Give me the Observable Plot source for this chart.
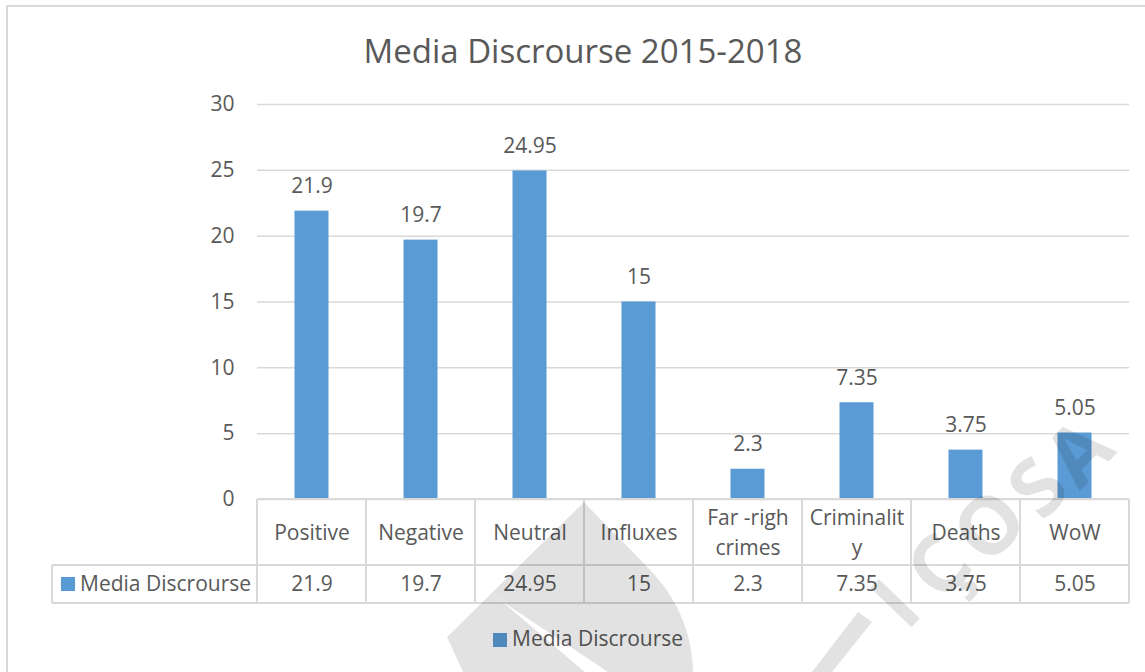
<!DOCTYPE html>
<html>
<head>
<meta charset="utf-8">
<script src="https://cdn.jsdelivr.net/npm/d3@7"></script>
<script src="https://cdn.jsdelivr.net/npm/@observablehq/plot@0.6"></script>
<style>
  html, body { margin: 0; padding: 0; background: #fff; overflow: hidden; }
  #wrap { position: relative; width: 1145px; height: 672px; font-family: "Open Sans", sans-serif; color: #595959; }
  #frame { position: absolute; left: 6px; top: 5px; width: 1200px; height: 720px; border: 2px solid #d9d9d9; box-sizing: border-box; }
  #title { position: absolute; left: 0; width: 1166px; top: 29px; text-align: center; font-size: 33px; line-height: 44px; white-space: nowrap; }
  #chart { position: absolute; left: 0; top: 0; }
  .legend { position: absolute; left: 493px; top: 624px; font-size: 21px; line-height: 28px; white-space: nowrap; }
  .sw { display: inline-block; width: 14px; height: 14px; background: #5B9BD5; margin-right: 5px; vertical-align: -1px; }
  #wm { position: absolute; left: 0; top: 0; pointer-events: none; }
</style>
</head>
<body>
<div id="wrap">
  <div id="frame"></div>
  <div id="chart"></div>
  <div id="title"></div>
  <div class="legend" id="legend"></div>
  <svg id="wm" width="1145" height="672"></svg>
</div>
<script>
const title = "Media Discrourse 2015-2018";
const seriesName = "Media Discrourse";
const categories = ["Positive", "Negative", "Neutral", "Influxes", "Far -righ\ncrimes", "Criminalit\ny", "Deaths", "WoW"];
const values = [21.9, 19.7, 24.95, 15, 2.3, 7.35, 3.75, 5.05];
const yTicks = [0, 5, 10, 15, 20, 25, 30];

const data = categories.map((c, i) => ({cat: c, value: values[i]}));
const fill = "#5B9BD5";
const lineColor = "#d9d9d9";
const textColor = "#595959";
const fs = 21;

document.getElementById("title").textContent = title;
document.getElementById("legend").innerHTML = `<span class="sw"></span>${seriesName}`;

const chart = Plot.plot({
  width: 1145,
  height: 672,
  marginLeft: 257,
  marginRight: 16,
  marginTop: 104,
  marginBottom: 173,
  style: {fontFamily: "'Open Sans', sans-serif", fontSize: fs + "px", color: textColor, background: "transparent", overflow: "visible"},
  x: {domain: categories, padding: 0, axis: null},
  y: {domain: [0, 30], axis: null},
  marks: [
    Plot.gridY(yTicks, {stroke: lineColor, strokeOpacity: 1, strokeWidth: 1.5}),
    Plot.axisY(yTicks, {tickSize: 0, tickPadding: 23, fontSize: fs, fill: textColor, label: null}),
    Plot.barY(data, {x: "cat", y: "value", fill: fill, insetLeft: 37.5, insetRight: 37.5}),
    Plot.text(data, {x: "cat", y: "value", text: d => String(d.value), lineAnchor: "bottom", dy: -18, fontSize: fs, fill: textColor}),
    // data table: category header row
    Plot.text(data, {x: "cat", text: "cat", frameAnchor: "bottom", lineAnchor: "middle", dy: 31, lineHeight: 1.4, fontSize: fs, fill: textColor}),
    // data table: value row
    Plot.text(data, {x: "cat", text: d => String(d.value), frameAnchor: "bottom", lineAnchor: "middle", dy: 85, fontSize: fs, fill: textColor})
  ]
});
document.getElementById("chart").appendChild(chart);

// table grid lines drawn from Plot's own scales
const xs = chart.scale("x");
const ys = chart.scale("y");
const bw = xs.bandwidth;
const x0 = xs.apply(categories[0]);
const x1 = xs.apply(categories[categories.length - 1]) + bw;
const yTop = ys.apply(0);
const yMid = yTop + 66;
const yBot = yTop + 104;
const tableLeft = 52;
const svg = d3.select(chart);
const g = svg.append("g").attr("stroke", lineColor).attr("stroke-width", 2).attr("fill", "none");
categories.forEach(c => {
  const x = xs.apply(c);
  g.append("line").attr("x1", x).attr("x2", x).attr("y1", yTop).attr("y2", yBot);
});
g.append("line").attr("x1", x1).attr("x2", x1).attr("y1", yTop).attr("y2", yBot);
g.append("line").attr("x1", tableLeft).attr("x2", tableLeft).attr("y1", yMid).attr("y2", yBot);
g.append("line").attr("x1", x0).attr("x2", x1).attr("y1", yTop).attr("y2", yTop);
g.append("line").attr("x1", tableLeft).attr("x2", x1).attr("y1", yMid).attr("y2", yMid);
g.append("line").attr("x1", tableLeft).attr("x2", x1).attr("y1", yBot).attr("y2", yBot);
// series key in table
const key = svg.append("g");
key.append("rect").attr("x", 61).attr("y", 577).attr("width", 14).attr("height", 14).attr("fill", fill);
key.append("text").attr("x", 80).attr("y", (yMid + yBot) / 2).attr("dy", "0.35em")
  .attr("text-anchor", "start")
  .attr("font-size", fs).attr("fill", textColor).attr("font-family", "'Open Sans', sans-serif").text(seriesName);

// faint background watermark of the source document
const wm = d3.select("#wm");
const defs = wm.append("defs");
const mask = defs.append("mask").attr("id", "leafMask");
mask.append("path").attr("fill", "#fff")
  .attr("d", "M584,502 L447,637 L463,672 L693,672 C693,640 680,600 650,570 C630,548 605,525 584,502 Z");
mask.append("path").attr("fill", "#000")
  .attr("d", "M484,586 L500,600 L626,684 L606,690 Z");
// the logo's "V" stroke near the lower edge
mask.append("path").attr("fill", "#fff")
  .attr("d", "M812,672 L858,612 L872,622 L832,672 Z");
const wg = wm.append("g").attr("opacity", 0.11);
wg.append("rect").attr("width", 1145).attr("height", 672).attr("fill", "#000").attr("mask", "url(#leafMask)");
const letters = [["I", 895, 603], ["Ç", 938, 566], ["O", 989, 525], ["S", 1037, 487], ["A", 1078, 452]];
letters.forEach(([ch, x, y]) => {
  wg.append("text").attr("transform", `translate(${x},${y}) rotate(-46)`)
    .attr("text-anchor", "middle").attr("dy", "0.36em")
    .attr("font-family", "'Open Sans', sans-serif").attr("font-weight", 700)
    .attr("font-size", 80).attr("fill", "#000").text(ch);
});
</script>
</body>
</html>
